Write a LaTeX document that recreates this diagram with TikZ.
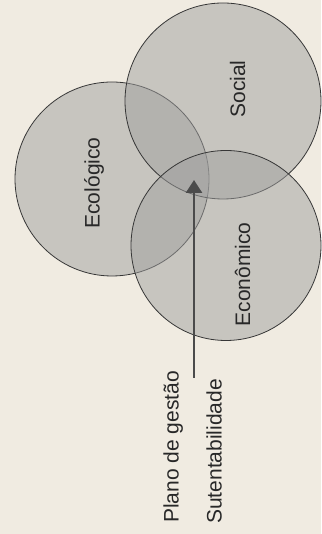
\documentclass[tikz,border=0pt]{standalone}
\usepackage{fontspec}
\setmainfont{Liberation Sans}
\usetikzlibrary{arrows.meta}
\definecolor{bgc}{RGB}{240,235,225}
\definecolor{circfill}{RGB}{160,160,159}
\definecolor{edgec}{RGB}{55,55,55}
\definecolor{txtc}{RGB}{40,40,40}
\definecolor{arrc}{RGB}{75,75,75}
\tikzset{
  circ/.style={circle, draw=edgec, line width=0.8pt, fill=circfill, fill opacity=0.5, draw opacity=1, inner sep=0pt},
  lbl/.style={rotate=90, text=txtc, font=\fontsize{21}{24}\selectfont, inner sep=0pt},
  arr/.style={draw=arrc, line width=2.8pt, -{Triangle[width=16pt,length=13pt]}}
}
\begin{document}
\begin{tikzpicture}[x=1pt,y=1pt]
\fill[bgc] (0,0) rectangle (321,534);
\useasboundingbox (0,0) rectangle (321,534);
\node[circ, minimum size=194pt] (eco) at (112,355) {};
\node[circ, minimum size=196pt] (soc) at (223,433) {};
\node[circ, minimum size=190pt] (econ) at (226,288.5) {};
\node[lbl, anchor=base] (tsoc) at (245,445) {Social};
\node[lbl, anchor=base] (teco) at (99.7,351) {Ecológico};
\node[lbl, anchor=base] (tecon) at (250,259.5) {Econômico};
\node[lbl, anchor=base west] (plano) at (178.5,11) {Plano de gestão};
\node[lbl, anchor=base west] (sust) at (221.5,10) {Sutentabilidade};
\coordinate (tail) at (194,156);
\coordinate (tip) at (194,354);
\draw[arr] (tail) -- (tip);
\end{tikzpicture}
\end{document}
